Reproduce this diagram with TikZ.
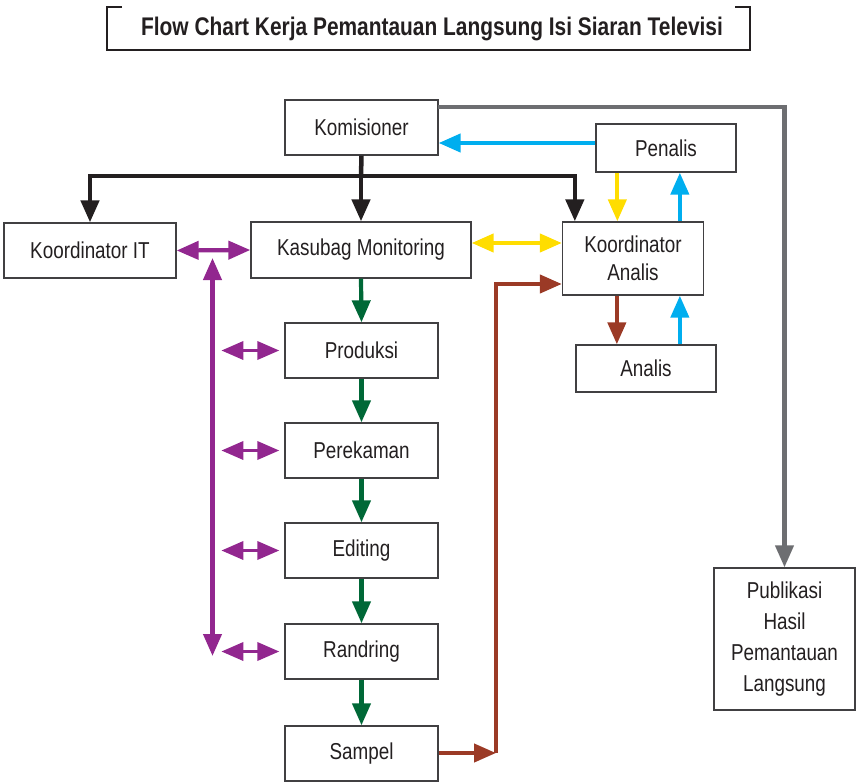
\documentclass[tikz,border=0pt]{standalone}
\usepackage{fontspec}
\setmainfont{Liberation Sans}[FakeStretch=0.82]
\usetikzlibrary{arrows.meta}
\definecolor{txt}{RGB}{35,31,32}
\definecolor{boxc}{RGB}{65,64,66}
\definecolor{cpurple}{RGB}{146,39,143}
\definecolor{cgreen}{RGB}{0,104,55}
\definecolor{cbrown}{RGB}{155,58,38}
\definecolor{cblue}{RGB}{0,174,239}
\definecolor{cyellow}{RGB}{255,221,0}
\definecolor{cblack}{RGB}{35,31,32}
\definecolor{cgrey}{RGB}{109,110,113}
\tikzset{
  box/.style={draw=boxc, line width=1.3pt, inner sep=0pt, align=center, text=txt,
    font=\fontsize{23}{28}\selectfont},
  conn/.style={line width=4.2pt, line join=miter, -{Triangle[length=22pt,width=18pt]}},
  dbl/.style={line width=4.2pt, {Triangle[length=22pt,width=18pt]}-{Triangle[length=22pt,width=18pt]}},
  sdbl/.style={line width=3.5pt, {Triangle[length=22pt,width=18pt]}-{Triangle[length=22pt,width=18pt]}},
}
\begin{document}
\begin{tikzpicture}[x=1pt,y=-1pt]
\useasboundingbox (0,0) rectangle (857,784);
% title
\draw[line width=2pt, color=txt] (122,7) -- (107,7) -- (107,50) -- (750,50) -- (750,7) -- (735,7);
\node[text=txt, font=\fontsize{25.5}{30}\selectfont\bfseries] (title) at (432,29) {Flow Chart Kerja Pemantauan Langsung Isi Siaran Televisi};
% boxes
\node[box, minimum width=153pt, minimum height=55pt] (kom) at (361.5,127.5) {Komisioner};
\node[box, minimum width=140pt, minimum height=48pt] (pen) at (666,148) {Penalis};
\node[box, minimum width=172pt, minimum height=55pt] (kit) at (90,250.5) {Koordinator IT};
\node[box, minimum width=220pt, minimum height=56pt] (kas) at (361,250) {Kasubag Monitoring};
\node[box, minimum width=141pt, minimum height=73pt] (ka) at (633,258.5) {Koordinator\\Analis};
\node[box, minimum width=140pt, minimum height=47pt] (ana) at (646,368.5) {Analis};
\node[box, minimum width=153pt, minimum height=55pt] (pro) at (361.5,350.5) {Produksi};
\node[box, minimum width=153pt, minimum height=55pt] (per) at (361.5,450.5) {Perekaman};
\node[box, minimum width=153pt, minimum height=55pt] (edi) at (361.5,550.5) {Editing};
\node[box, minimum width=153pt, minimum height=55pt] (ran) at (361.5,651.5) {Randring};
\node[box, minimum width=153pt, minimum height=55pt] (sam) at (361.5,753.5) {Sampel};
\node[box, minimum width=141pt, minimum height=142pt, font=\fontsize{23}{31}\selectfont] (pub) at (784.5,639) {Publikasi\\Hasil\\Pemantauan\\Langsung};
% grey
\coordinate (g1) at (438,107);
\draw[conn, cgrey] (g1) -| (pub.north);
% black tree
\coordinate (t) at (361,176);
\draw[line width=4.5pt, cblack] (kom.south) -- (t);
\draw[conn, cblack, line width=4.5pt] (t) -| (kit.north);
\draw[conn, cblack, line width=4.5pt] (t) -| ([xshift=13pt]ka.north west);
\draw[conn, cblack, line width=4.5pt] (t) -- (kas.north);
% penalis
\draw[conn, cblue] ([yshift=5pt]pen.west) -- ([yshift=5pt]pen.west -| kom.east);
\draw[conn, cyellow] ([xshift=22pt]pen.south west) -- ([xshift=22pt]pen.south west |- ka.north);
\draw[conn, cblue] ([xshift=118pt]ka.north west) -- ([xshift=118pt]ka.north west |- pen.south);
\draw[dbl, cyellow] ([yshift=7pt]kas.east) -- ([yshift=7pt]kas.east -| ka.west);
% analis
\draw[conn, cbrown] ([xshift=55pt]ka.south west) -- ([xshift=55pt]ka.south west |- ana.north);
\draw[conn, cblue] ([xshift=118pt]ka.south west |- ana.north) -- ([xshift=118pt]ka.south west);
% green chain
\draw[conn, cgreen] (kas.south) -- (pro.north);
\draw[conn, cgreen] (pro.south) -- (per.north);
\draw[conn, cgreen] (per.south) -- (edi.north);
\draw[conn, cgreen] (edi.south) -- (ran.north);
\draw[conn, cgreen] (ran.south) -- (sam.north);
% brown
\coordinate (b1) at (496,753);
\draw[conn, cbrown] ([yshift=0.5pt]sam.east) -- (b1);
\draw[conn, cbrown] (b1) |- ([yshift=-25.5pt]ka.west);
% purple
\draw[dbl, cpurple] (kit.east) -- (kas.west);
\coordinate (v1) at (212.5,258);
\coordinate (v2) at (212.5,656);
\draw[dbl, cpurple] (v1) -- (v2);
\draw[sdbl, cpurple] ([xshift=-63pt]pro.west) -- ([xshift=-5pt]pro.west);
\draw[sdbl, cpurple] ([xshift=-63pt]per.west) -- ([xshift=-5pt]per.west);
\draw[sdbl, cpurple] ([xshift=-63pt]edi.west) -- ([xshift=-5pt]edi.west);
\draw[sdbl, cpurple] ([xshift=-63pt]ran.west) -- ([xshift=-5pt]ran.west);
\end{tikzpicture}
\end{document}
